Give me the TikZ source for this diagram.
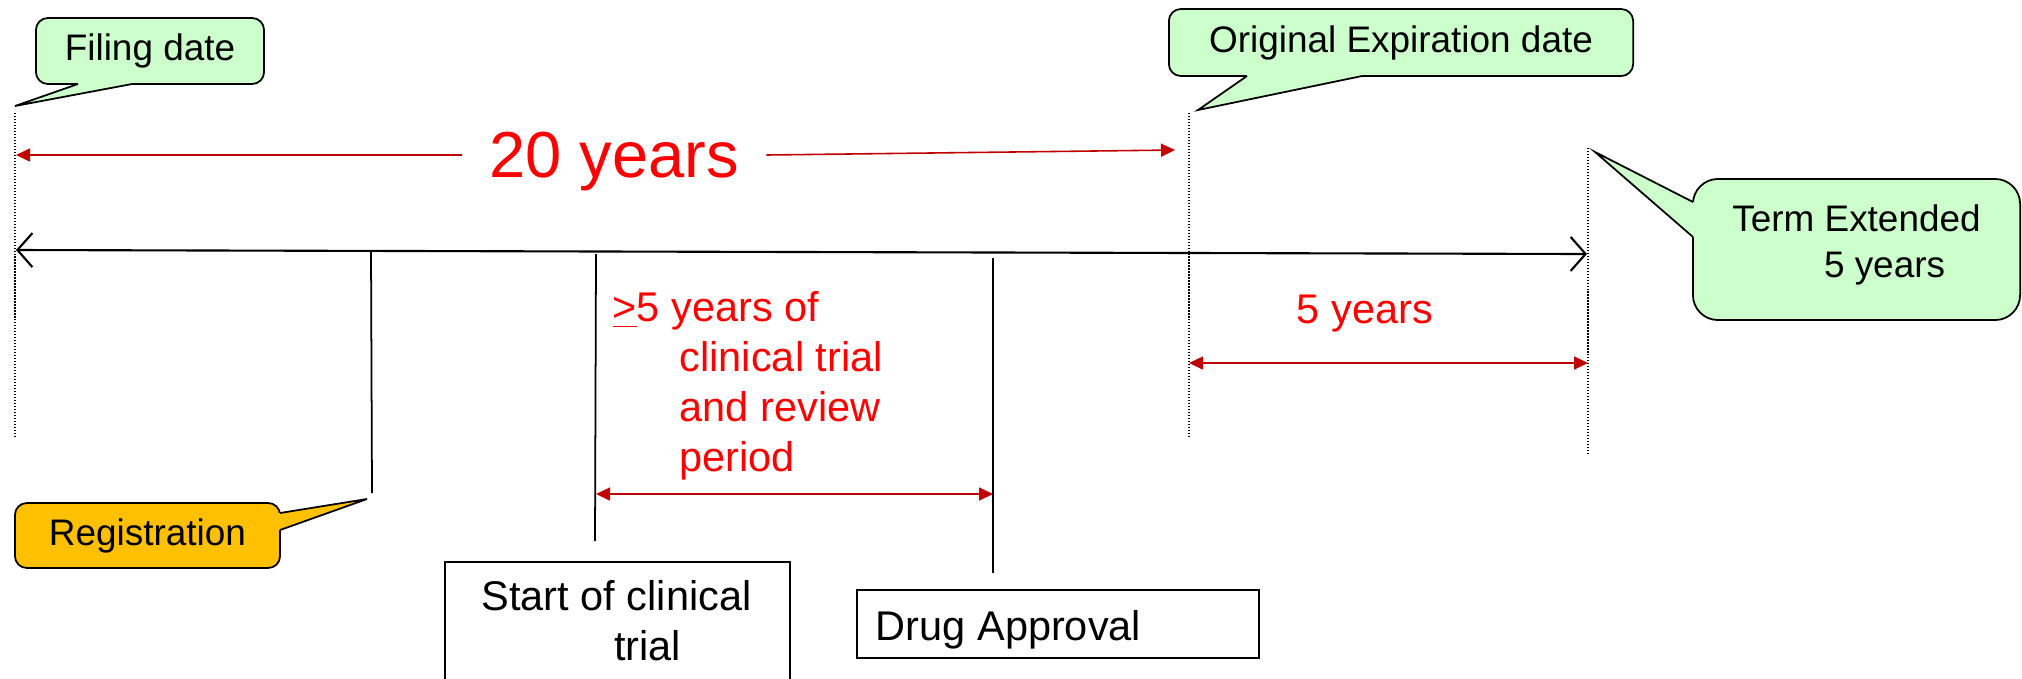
\documentclass[tikz,border=0pt]{standalone}
\usepackage{fontspec}
\setmainfont{Liberation Sans}
\usetikzlibrary{arrows.meta,calc}
\definecolor{callgreen}{HTML}{CCFFCC}
\definecolor{callorange}{HTML}{FFC000}
\definecolor{txtred}{HTML}{FF0000}
\definecolor{arrred}{HTML}{C00000}
\tikzset{
 callbox/.style={draw=black, line width=0.5pt, rounded corners=0.12cm, inner sep=0pt, font=\fontsize{10.5}{13}\selectfont},
 pointer/.style={draw=black, line width=0.5pt, line join=miter},
 plainbox/.style={draw=black, line width=0.5pt, inner sep=0pt},
 bigtxt/.style={font=\fontsize{11.8}{14.2}\selectfont},
 tickline/.style={draw=black, line width=0.5pt},
 dotline/.style={draw=black, line width=0.5pt, dash pattern=on 0.35pt off 0.5pt},
 timeline/.style={draw=black, line width=0.6pt, {Straight Barb[length=0.15cm,width=0.34cm]}-{Straight Barb[length=0.15cm,width=0.34cm]}},
 spanarrow/.style={draw=arrred, line width=0.45pt, {Triangle[length=0.14cm,width=0.13cm]}-{Triangle[length=0.14cm,width=0.13cm]}},
 halfspan/.style={draw=arrred, line width=0.45pt, -{Triangle[length=0.14cm,width=0.13cm]}},
}
\begin{document}
\begin{tikzpicture}[x=0.01cm,y=-0.01cm]
\useasboundingbox (0,0) rectangle (2022,678);
\clip (0,0) rectangle (2022,678);

% ---- dotted markers
\coordinate (filingtop) at (15,113);  \coordinate (filingbot) at (15,438);
\coordinate (exptop) at (1189,113);   \coordinate (expbot) at (1189,438);
\coordinate (exttop) at (1588,148);   \coordinate (extbot) at (1588,454);
\draw[dotline] (filingtop) -- (filingbot);
\draw[dotline] (exptop) -- (expbot);
\draw[dotline] (exttop) -- (extbot);

% ---- main timeline
\coordinate (tlL) at (16,250);
\coordinate (tlR) at (1587,254);
\draw[timeline] (tlL) -- (tlR);

% ---- event ticks
\coordinate (regtop) at (371,251);   \coordinate (regbot) at (372,493);
\coordinate (clintop) at (596,254);  \coordinate (clinbot) at (595,541);
\coordinate (drugtop) at (993,258);  \coordinate (drugbot) at (993,573);
\draw[tickline] (regtop) -- (regbot);
\draw[tickline] (clintop) -- (clinbot);
\draw[tickline] (drugtop) -- (drugbot);

% ---- 20 years
\node[text=txtred, font=\fontsize{18.5}{22}\selectfont, inner xsep=0.27cm, inner ysep=0pt, text depth=0pt] (twenty) at (614,155) {20 years};
\coordinate (twentyL) at (16,155);
\coordinate (twentyR) at (1175,150);
\draw[halfspan] (twenty.west) -- (twentyL);
\draw[halfspan] (twenty.east) -- (twentyR);

% ---- clinical period
\node[text=txtred, bigtxt, align=left, anchor=north west, inner sep=0pt] (clintxt) at (612,291)
 {\underline{>}5 years of\\\hspace*{0.67cm}clinical trial\\\hspace*{0.67cm}and review\\\hspace*{0.67cm}period};
\coordinate (clinA) at (596,494);
\coordinate (clinB) at (993,494);
\draw[spanarrow] (clinA) -- (clinB);

% ---- 5 years
\node[text=txtred, bigtxt, inner sep=0pt] (fiveyrs) at (1365,314) {5 years};
\coordinate (fiveA) at (1189,363);
\coordinate (fiveB) at (1588,363);
\draw[spanarrow] (fiveA) -- (fiveB);

% ---- callouts
\node[callbox, fill=callgreen, minimum width=2.28cm, minimum height=0.66cm] (filing) at (150,51) {Filing date};
\coordinate (filingtip) at (15,106);
\fill[callgreen] (78,80) -- (78,84) -- (filingtip) -- (132,84) -- (132,80) -- cycle;
\draw[pointer] (78,84) -- (filingtip) -- (132,84);

\node[callbox, fill=callgreen, minimum width=4.64cm, minimum height=0.67cm] (orig) at (1401,42.5) {Original Expiration date};
\coordinate (origtip) at (1198,110);
\fill[callgreen] (1247,72) -- (1247,76) -- (origtip) -- (1362,76) -- (1362,72) -- cycle;
\draw[pointer] (1247,76) -- (origtip) -- (1362,76);

\node[callbox, fill=callgreen, rounded corners=0.25cm, minimum width=3.27cm, minimum height=1.41cm, align=center] (term) at (1856.5,249.5) {Term Extended\\\hspace*{0.56cm}5 years\rule[-0.17cm]{0pt}{0.1pt}};
\coordinate (termtip) at (1595,152);
\fill[callgreen] (1697,202) -- (1693,202) -- (termtip) -- (1693,237) -- (1697,237) -- cycle;
\draw[pointer] (1693,202) -- (termtip) -- (1693,237);

\node[callbox, fill=callorange, minimum width=2.65cm, minimum height=0.65cm] (reg) at (147.5,535.5) {Registration};
\coordinate (regtip) at (367,499);
\fill[callorange] (276,513) -- (280,513) -- (regtip) -- (280,530) -- (276,530) -- cycle;
\draw[pointer] (280,513) -- (regtip) -- (280,530);

% ---- boxes
\node[plainbox, anchor=north west, minimum width=3.45cm, minimum height=1.4cm] (startbox) at (444,561) {};
\node[bigtxt, align=center, anchor=north, inner sep=0pt] (starttxt) at (616.5,580) {Start of clinical\\\hspace*{0.62cm}trial};

\node[plainbox, bigtxt, anchor=north west, minimum width=4.02cm, minimum height=0.68cm, inner xsep=0.19cm, inner ysep=0pt, text height=0.34cm, text depth=0pt] (drug) at (856,589) {\makebox[3.64cm][l]{Drug Approval}};
\end{tikzpicture}
\end{document}
